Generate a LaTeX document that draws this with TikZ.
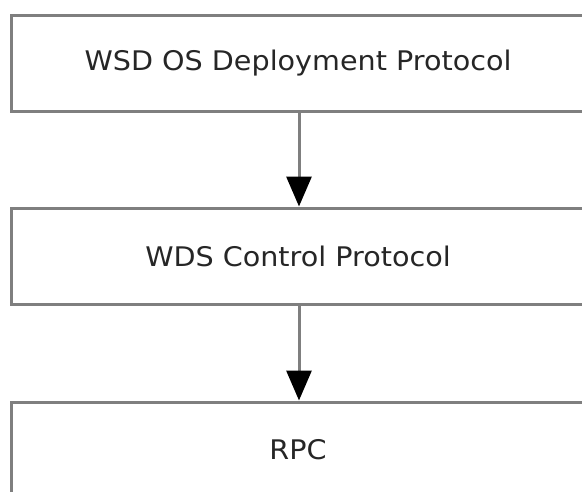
\documentclass[tikz,border=0pt]{standalone}
\usepackage{fontspec}
\setmainfont{DejaVu Sans}[FakeStretch=1.06]
\usetikzlibrary{arrows.meta}
\definecolor{boxgray}{HTML}{7F7F7F}
\definecolor{textgray}{HTML}{262626}

\begin{document}
\begin{tikzpicture}[x=1pt, y=-1pt,
layer/.style={draw=boxgray, line width=3pt, fill=white, rectangle, minimum width=574pt, minimum height=96pt, inner sep=0pt, text=textgray, font=\fontsize{27}{31}\selectfont},
flow/.style={draw=boxgray, line width=3pt, -{Triangle[length=30pt, width=25pt, color=black]}}]
\useasboundingbox (0,0) rectangle (582,491);
\clip (0,0) rectangle (582,491);
\node [layer] (wsd) at (298,63){WSD OS Deployment Protocol};
\node [layer] (wdsc) at (298,256){WDS Control Protocol};
\node [layer] (rpc) at (298,450){RPC};
\draw [flow] (wsd.south -| 299,0) -- (wdsc.north -| 299,0);
\draw [flow] (wdsc.south -| 299,0) -- (rpc.north -| 299,0);
\end{tikzpicture}
\end{document}
